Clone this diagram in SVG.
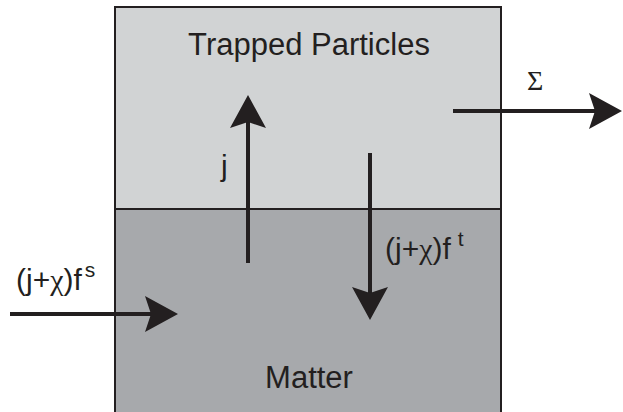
<svg xmlns="http://www.w3.org/2000/svg" width="623" height="412" viewBox="0 0 623 412">
<style>
.lbl{font-family:"Liberation Sans",Arial,sans-serif;fill:#231f20}
.title{font-size:31px;text-anchor:middle}
.flow{font-size:30px}
.sym{font-family:"Liberation Serif","DejaVu Serif",serif}
.sup{font-size:21px}
.conn{stroke:#231f20;stroke-width:4;fill:none}
</style>
<defs>
<marker id="ah" markerUnits="userSpaceOnUse" markerWidth="40" markerHeight="40" viewBox="-32 -20 40 40" refX="0" refY="0" orient="auto">
<path d="M6,0 L-27,-18 L-21,0 L-27,18 Z" fill="#231f20"/>
</marker>
</defs>
<g id="trapped">
<rect x="115" y="7" width="386" height="202" fill="#d1d3d4" stroke="#231f20" stroke-width="2"/>
<text class="lbl title" x="309" y="55">Trapped Particles</text>
</g>
<g id="matter">
<rect x="115" y="209" width="386" height="206" fill="#a7a9ac" stroke="#231f20" stroke-width="2"/>
<text class="lbl title" x="309" y="388">Matter</text>
</g>
<g id="connectors">
<line class="conn" x1="248" y1="263" x2="248" y2="101" marker-end="url(#ah)"/>
<line class="conn" x1="370" y1="153" x2="370" y2="314" marker-end="url(#ah)"/>
<line class="conn" x1="10" y1="314" x2="172" y2="314" marker-end="url(#ah)"/>
<line class="conn" x1="453" y1="111" x2="616" y2="111" marker-end="url(#ah)"/>
<text class="lbl flow" x="221" y="176">j</text>
<text class="lbl flow" x="16" y="290">(j+<tspan class="sym">χ</tspan>)f<tspan class="sup" dx="3" dy="-13">s</tspan></text>
<text class="lbl flow" x="385" y="259">(j+<tspan class="sym">χ</tspan>)f<tspan class="sup" dx="7" dy="-13">t</tspan></text>
<text class="lbl sym" x="527" y="90" font-size="28">Σ</text>
</g>
</svg>
